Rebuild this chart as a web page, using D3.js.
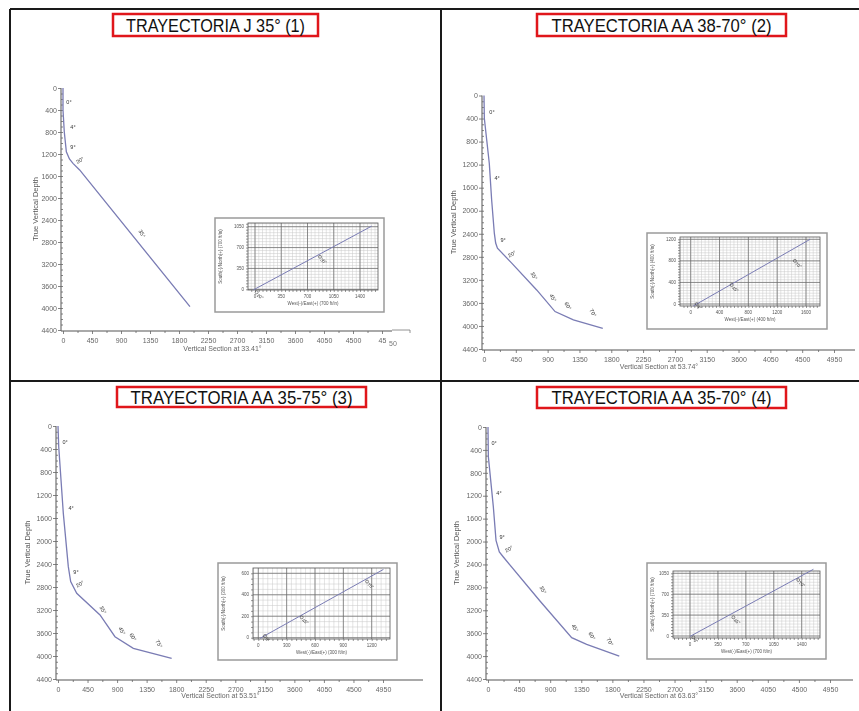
<!DOCTYPE html>
<html>
<head>
<meta charset="utf-8">
<script src="https://cdn.jsdelivr.net/npm/d3@7"></script>
<style>
  body { margin: 0; background: #fff; }
  svg { display: block; font-family: "Liberation Sans", Arial, sans-serif; }
</style>
</head>
<body>
<div id="chart"></div>
<script>
// titles and axis labels
const titles = ["TRAYECTORIA J 35° (1)", "TRAYECTORIA AA 38-70° (2)", "TRAYECTORIA AA 35-75° (3)", "TRAYECTORIA AA 35-70° (4)"]
const sectionAz = ["33.41", "53.74", "53.51", "63.63"]
const tvdTicks = [0, 400, 800, 1200, 1600, 2000, 2400, 2800, 3200, 3600, 4000, 4400]
const vsTicks = [0, 450, 900, 1350, 1800, 2250, 2700, 3150, 3600, 4050, 4500, 4950]

// trajectories : [vertical section, true vertical depth]
const traj1 = [[0, 0], [0, 400], [20, 800], [52, 1160], [100, 1290], [155, 1370], [258, 1490], [1970, 3975]]
const traj2 = [[0, 0], [5, 400], [75, 1180], [108, 1810], [146, 2390], [165, 2560], [190, 2650], [392, 2910], [745, 3375], [1005, 3750], [1264, 3895], [1680, 4040]]
const traj3 = [[0, 0], [11, 360], [81, 1519], [157, 2446], [193, 2707], [285, 2910], [640, 3287], [868, 3664], [1147, 3866], [1731, 4040]]
const traj4 = [[0, 0], [5, 518], [77, 1391], [116, 1979], [164, 2183], [222, 2270], [752, 3038], [1211, 3679], [1428, 3795], [1900, 4000]]

// inclination labels : [angle, vs, tvd]
const angles1 = [[0, 93, 252], [4, 155, 702], [9, 155, 1080], [20, 264, 1314], [35, 1226, 2646]]
const angles2 = [[0, 113, 286], [4, 184, 1431], [9, 269, 2507], [20, 396, 2750], [35, 708, 3132], [45, 976, 3513], [60, 1189, 3652], [70, 1542, 3774]]
const angles3 = [[0, 107, 278], [4, 198, 1426], [9, 274, 2539], [20, 335, 2748], [35, 685, 3200], [45, 975, 3565], [60, 1142, 3670], [75, 1538, 3791]]
const angles4 = [[0, 87, 279], [4, 159, 1152], [9, 203, 1921], [20, 304, 2130], [35, 796, 2846], [45, 1259, 3510], [60, 1505, 3649], [70, 1765, 3754]]

// plan views (insets) : [east, north]
const plan1 = [[-22, -10], [1556, 1060]]
const plan2 = [[36, -37], [1657, 1200]]
const plan3 = [[18, -6], [1324, 636]]
const plan4 = [[0, -7], [1547, 1117]]
const planMarks1 = [["20°", 22, -50], ["35°", 867, 545]]
const planMarks2 = [["9°", 83, 0], ["45°", 569, 352], ["70°", 1446, 800]]
const planMarks3 = [["9°", 71, 16], ["45°", 459, 190], ["75°", 1151, 523]]
const planMarks4 = [["9°", 42, -22], ["45°", 544, 313], ["70°", 1357, 938]]
const planX1 = [0, 350, 700, 1050, 1400], planY1 = [0, 350, 700, 1050]
const planX2 = [0, 400, 800, 1200, 1600], planY2 = [0, 400, 800, 1200]
const planX3 = [0, 300, 600, 900, 1200], planY3 = [0, 200, 400, 600]
const planX4 = [0, 350, 700, 1050, 1400], planY4 = [0, 350, 700, 1050]
const planScale = ["700", "400", "300", "700"]

const panels = [
  { traj: traj1, angles: angles1, plan: plan1, marks: planMarks1, px: planX1, py: planY1 },
  { traj: traj2, angles: angles2, plan: plan2, marks: planMarks2, px: planX2, py: planY2 },
  { traj: traj3, angles: angles3, plan: plan3, marks: planMarks3, px: planX3, py: planY3 },
  { traj: traj4, angles: angles4, plan: plan4, marks: planMarks4, px: planX4, py: planY4 }
]

// where everything sits on the page
const layouts = [
  { title: { x: 113, y: 14, w: 205, h: 22, tw: 179 }, vs: [63, 382], tvd: [88, 330], axEnd: 392, xTitleY: 351, yTitleX: 38,
    inset: { box: [215, 218, 384, 312], plot: [248, 223, 378, 290], x: [255, 360], y: [289.3, 226.7] } },
  { title: { x: 537, y: 14, w: 249, h: 22, tw: 220 }, vs: [484, 834], tvd: [95.5, 349], axEnd: 855, xTitleY: 369, yTitleX: 456,
    inset: { box: [647, 233, 827, 329], plot: [680, 237, 820, 306], x: [690.7, 806], y: [304, 239.3] } },
  { title: { x: 117, y: 387, w: 249, h: 20, tw: 222 }, vs: [58, 383], tvd: [426, 679], axEnd: 423, xTitleY: 698, yTitleX: 30,
    inset: { box: [218, 563, 397, 660], plot: [253, 568, 390, 639], x: [258.3, 371.7], y: [637.7, 573.3] } },
  { title: { x: 537, y: 387, w: 249, h: 21, tw: 220 }, vs: [488, 830], tvd: [427, 679], axEnd: 853, xTitleY: 698, yTitleX: 459,
    inset: { box: [647, 563, 826, 659], plot: [673, 571, 820, 638], x: [690, 801.7], y: [636, 573.3] } }
]

const width = 859
const height = 711
const fmt = d3.format("d")

const svg = d3.select("#chart")
  .append("svg")
  .attr("width", width)
  .attr("height", height)

const defs = svg.append("defs")
defs.append("filter").attr("id", "soft")
  .append("feGaussianBlur").attr("stdDeviation", 0.35)

// table borders
const grid = svg.append("g").attr("stroke", "#1a1a1a").attr("stroke-width", 2)
grid.append("line").attr("x1", 10).attr("x2", width).attr("y1", 9).attr("y2", 9)
grid.append("line").attr("x1", 10).attr("x2", 10).attr("y1", 9).attr("y2", height)
grid.append("line").attr("x1", 441).attr("x2", 441).attr("y1", 9).attr("y2", height)
grid.append("line").attr("x1", 10).attr("x2", width).attr("y1", 381).attr("y2", 381)

const rot = a => a < 10 ? 0 : a < 30 ? -30 : 60

panels.forEach((p, i) => {
  const L = layouts[i]

  // red title box
  svg.append("rect")
    .attr("x", L.title.x).attr("y", L.title.y)
    .attr("width", L.title.w).attr("height", L.title.h)
    .attr("fill", "none").attr("stroke", "#e0161b").attr("stroke-width", 2.5)
  svg.append("text")
    .attr("x", L.title.x + L.title.w / 2).attr("y", L.title.y + L.title.h / 2 + 6.5)
    .attr("text-anchor", "middle")
    .attr("font-size", 18)
    .attr("fill", "#111")
    .attr("textLength", L.title.tw).attr("lengthAdjust", "spacingAndGlyphs")
    .text(titles[i])

  const g = svg.append("g").attr("filter", "url(#soft)")

  const x = d3.scaleLinear().domain([0, 4950]).range(L.vs)
  const y = d3.scaleLinear().domain([0, 4400]).range(L.tvd)
  const ax = x(0) - 2
  const ay = y(4400) + 1

  // axis lines
  g.append("line").attr("x1", ax).attr("x2", ax).attr("y1", y(0)).attr("y2", ay)
    .attr("stroke", "#555").attr("stroke-width", 1)
  g.append("line").attr("x1", ax).attr("x2", L.axEnd).attr("y1", ay).attr("y2", ay)
    .attr("stroke", "#555").attr("stroke-width", 1)

  // x axis
  const xAxis = g.append("g").attr("transform", `translate(0,${ay})`)
    .call(d3.axisBottom(x).tickValues(vsTicks).tickSize(3).tickSizeOuter(0)
      .tickFormat(d => (i === 0 && d === 4950) ? "45" : fmt(d)))
  g.append("g").attr("transform", `translate(0,${ay})`)
    .call(d3.axisBottom(x).tickValues(d3.range(225, 4950, 450)).tickSize(2).tickFormat(""))
    .call(s => s.select(".domain").remove())
  if (i === 0) {
    g.append("text").attr("x", x(4950) + 11).attr("y", ay + 15)
      .attr("font-size", 7).attr("fill", "#777").attr("text-anchor", "middle").text("50")
    g.append("path").attr("d", `M${L.axEnd},${ay - 1}h18v3`).attr("fill", "none").attr("stroke", "#777").attr("stroke-width", 0.8)
  }

  // y axis
  const yAxis = g.append("g").attr("transform", `translate(${ax},0)`)
    .call(d3.axisLeft(y).tickValues(tvdTicks).tickSize(3).tickSizeOuter(0).tickFormat(fmt))
  g.append("g").attr("transform", `translate(${ax},0)`)
    .call(d3.axisRight(y).tickValues(d3.range(100, 4400, 100)).tickSize(2).tickFormat(""))
    .call(s => s.select(".domain").remove())

  g.selectAll(".domain").remove()
  g.selectAll(".tick line").attr("stroke", "#666").attr("stroke-width", 0.8)
  g.selectAll(".tick text").attr("font-size", 7).attr("fill", "#666").attr("font-family", "Liberation Sans, Arial, sans-serif")
  xAxis.selectAll(".tick text").attr("dy", "0.9em")
  yAxis.selectAll(".tick text").attr("x", -4)

  // axis titles
  g.append("text")
    .attr("x", (L.vs[0] + L.vs[1]) / 2).attr("y", L.xTitleY)
    .attr("text-anchor", "middle").attr("font-size", 7).attr("fill", "#666")
    .text(`Vertical Section at ${sectionAz[i]}°`)
  g.append("text")
    .attr("transform", `translate(${L.yTitleX},${(L.tvd[0] + L.tvd[1]) / 2}) rotate(-90)`)
    .attr("text-anchor", "middle").attr("font-size", 7.5).attr("fill", "#555")
    .text("True Vertical Depth")

  // well path
  const line = d3.line().x(d => x(d[0])).y(d => y(d[1]))
  g.append("path")
    .datum(p.traj)
    .attr("d", line)
    .attr("fill", "none")
    .attr("stroke", "#7a7cb4")
    .attr("stroke-width", 1.3)

  // inclination labels
  g.selectAll(".ang")
    .data(p.angles)
    .enter()
    .append("text")
    .attr("class", "ang")
    .attr("transform", d => `translate(${x(d[1])},${y(d[2])}) rotate(${rot(d[0])})`)
    .attr("text-anchor", "middle")
    .attr("dy", "0.35em")
    .attr("font-size", 5.5)
    .attr("fill", "#333")
    .text(d => d[0] + "°")

  // inset plan view
  const I = L.inset
  const ig = svg.append("g").attr("filter", "url(#soft)")
  ig.append("rect")
    .attr("x", I.box[0]).attr("y", I.box[1])
    .attr("width", I.box[2] - I.box[0]).attr("height", I.box[3] - I.box[1])
    .attr("fill", "#fff").attr("stroke", "#9a9a9a").attr("stroke-width", 1.5)

  const px = d3.scaleLinear().domain([0, p.px[p.px.length - 1]]).range(I.x)
  const py = d3.scaleLinear().domain([0, p.py[p.py.length - 1]]).range(I.y)
  const [l, t, r, b] = I.plot

  const minorX = d3.range(Math.ceil(px.invert(l) / 50) * 50, px.invert(r), 50)
  const minorY = d3.range(Math.ceil(py.invert(b) / 50) * 50, py.invert(t), 50)
  ig.selectAll(".mx").data(minorX).enter().append("line")
    .attr("x1", d => px(d)).attr("x2", d => px(d)).attr("y1", t).attr("y2", b)
    .attr("stroke", "#c8c8c8").attr("stroke-width", 0.5)
  ig.selectAll(".my").data(minorY).enter().append("line")
    .attr("x1", l).attr("x2", r).attr("y1", d => py(d)).attr("y2", d => py(d))
    .attr("stroke", "#c8c8c8").attr("stroke-width", 0.5)
  ig.selectAll(".Mx").data(p.px).enter().append("line")
    .attr("x1", d => px(d)).attr("x2", d => px(d)).attr("y1", t).attr("y2", b)
    .attr("stroke", "#666").attr("stroke-width", 0.7)
  ig.selectAll(".My").data(p.py).enter().append("line")
    .attr("x1", l).attr("x2", r).attr("y1", d => py(d)).attr("y2", d => py(d))
    .attr("stroke", "#666").attr("stroke-width", 0.7)
  ig.append("rect")
    .attr("x", l).attr("y", t).attr("width", r - l).attr("height", b - t)
    .attr("fill", "none").attr("stroke", "#555").attr("stroke-width", 0.8)

  // inset ticks
  ig.append("g").attr("transform", `translate(0,${b})`)
    .call(d3.axisBottom(px).tickValues(minorX).tickSize(2).tickFormat(""))
  ig.append("g").attr("transform", `translate(${l},0)`)
    .call(d3.axisLeft(py).tickValues(minorY).tickSize(2).tickFormat(""))
  ig.selectAll(".domain").remove()
  ig.selectAll(".tick line").attr("stroke", "#555").attr("stroke-width", 0.6)

  ig.selectAll(".xl").data(p.px).enter().append("text")
    .attr("x", d => px(d)).attr("y", b + 8)
    .attr("text-anchor", "middle").attr("font-size", 4.5).attr("fill", "#555")
    .text(d => d)
  ig.selectAll(".yl").data(p.py).enter().append("text")
    .attr("x", l - 4).attr("y", d => py(d)).attr("dy", "0.35em")
    .attr("text-anchor", "end").attr("font-size", 4.5).attr("fill", "#555")
    .text(d => d)
  ig.append("text")
    .attr("x", (l + r) / 2).attr("y", b + 15)
    .attr("text-anchor", "middle").attr("font-size", 4.5).attr("fill", "#555")
    .text(`West(-)/East(+) (${planScale[i]} ft/in)`)
  ig.append("text")
    .attr("transform", `translate(${I.box[0] + 7},${(t + b) / 2}) rotate(-90)`)
    .attr("text-anchor", "middle").attr("font-size", 4.5).attr("fill", "#555")
    .text(`South(-)/North(+) (${planScale[i]} ft/in)`)

  ig.append("path")
    .datum(p.plan)
    .attr("d", d3.line().x(d => px(d[0])).y(d => py(d[1])))
    .attr("fill", "none").attr("stroke", "#7a7cb4").attr("stroke-width", 1)

  const mk = ig.selectAll(".mk").data(p.marks).enter().append("g")
    .attr("transform", d => `translate(${px(d[1])},${py(d[2])})`)
  mk.append("circle").attr("r", 1.5).attr("fill", "none").attr("stroke", "#444").attr("stroke-width", 0.6)
  mk.append("text")
    .attr("x", 2).attr("y", 3)
    .attr("transform", "rotate(35)")
    .attr("font-size", 4.5).attr("fill", "#333")
    .text(d => d[0])
})
</script>
</body>
</html>
